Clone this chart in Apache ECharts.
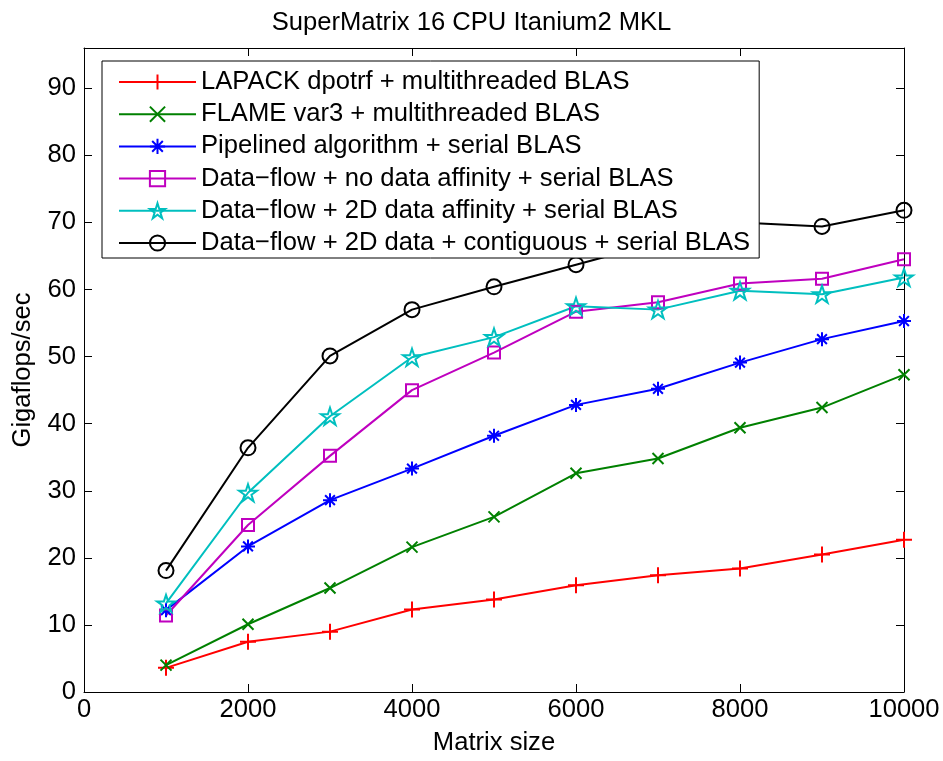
<!DOCTYPE html>
<html>
<head>
<meta charset="utf-8">
<script src="https://cdn.jsdelivr.net/npm/echarts@6/dist/echarts.min.js"></script>
<style>
html,body{margin:0;padding:0;background:#fff;}
#chart{width:943px;height:761px;}
</style>
</head>
<body>
<div id="chart"></div>
<script>
var matrixSizes = [1000, 2000, 3000, 4000, 5000, 6000, 7000, 8000, 9000, 10000];
var lapackMT   = [3.6, 7.5, 9.0, 12.3, 13.8, 15.9, 17.4, 18.4, 20.5, 22.7];
var flameVar3  = [4.0, 10.1, 15.5, 21.6, 26.1, 32.6, 34.8, 39.4, 42.4, 47.3];
var pipelined  = [12.2, 21.7, 28.6, 33.3, 38.2, 42.8, 45.2, 49.1, 52.6, 55.3];
var dfNoAff    = [11.4, 24.9, 35.2, 45.0, 50.6, 56.7, 58.1, 60.9, 61.6, 64.5];
var df2dAff    = [13.2, 29.7, 41.1, 49.9, 52.9, 57.5, 57.0, 59.8, 59.3, 61.8];
var df2dContig = [18.1, 36.4, 50.1, 57.0, 60.4, 63.7, 67.0, 70.0, 69.4, 71.8];
var seriesNames = [
  'LAPACK dpotrf + multithreaded BLAS',
  'FLAME var3 + multithreaded BLAS',
  'Pipelined algorithm + serial BLAS',
  'Data\u2212flow + no data affinity + serial BLAS',
  'Data\u2212flow + 2D data affinity + serial BLAS',
  'Data\u2212flow + 2D data + contiguous + serial BLAS'
];
var xTicks = [0, 2000, 4000, 6000, 8000, 10000];
var yTicks = [0, 10, 20, 30, 40, 50, 60, 70, 80, 90];

var FONT = '"Liberation Sans", Arial, Helvetica, sans-serif';
var FS = 25.6;
var PLUS = 'path://M5,0L5,10M0,5L10,5';
var CROSS = 'path://M0,0L10,10M0,10L10,0';
var ASTER = 'path://M5,0L5,10M0,5L10,5M1.5,1.5L8.5,8.5M1.5,8.5L8.5,1.5';
var STAR = 'path://M50,0L61.23,34.55L97.55,34.55L68.17,55.9L79.39,90.45L50,69.1L20.61,90.45L31.83,55.9L2.45,34.55L38.77,34.55Z';

function pairs(vals){ return matrixSizes.map(function(x,i){ return [x, vals[i]]; }); }

function mk(name, vals, color, symbol, size){
  return {
    name: name, type: 'line', data: pairs(vals),
    symbol: symbol, symbolSize: size, symbolKeepAspect: true,
    showAllSymbol: true,
    lineStyle: {color: color, width: 2},
    itemStyle: {color: 'rgba(255,255,255,0)', borderColor: color, borderWidth: 2},
    emphasis: {disabled: true},
    animation: false
  };
}

var chart = echarts.init(document.getElementById('chart'), null, {renderer: 'canvas'});
var axisCommon = {
  axisLine: {show: true, onZero: false, lineStyle: {color: '#000', width: 1}},
  axisTick: {show: true, inside: true, length: 8, lineStyle: {color: '#000', width: 1}},
  splitLine: {show: false}
};
chart.setOption({
  backgroundColor: '#fff',
  animation: false,
  title: {
    text: 'SuperMatrix 16 CPU Itanium2 MKL', left: 'center', top: 5,
    textStyle: {fontFamily: FONT, fontSize: FS, fontWeight: 'normal', color: '#000'}
  },
  grid: {left: 84, right: 39, top: 48, bottom: 67.5, containLabel: false},
  legend: {
    orient: 'vertical', left: 102, top: 61,
    padding: [8, 9, 2, 16], itemGap: 6.2, itemWidth: 77, itemHeight: 19,
    backgroundColor: '#fff', borderColor: '#000', borderWidth: 1,
    textStyle: {fontFamily: FONT, fontSize: FS, color: '#000'},
    selectedMode: false,
    data: seriesNames
  },
  xAxis: [
    Object.assign({}, axisCommon, {
      type: 'value', min: 0, max: 10000, interval: 2000, position: 'bottom',
      name: 'Matrix size', nameLocation: 'middle', nameGap: 38,
      nameTextStyle: {fontFamily: FONT, fontSize: FS, color: '#000'},
      axisLabel: {margin: 5, fontFamily: FONT, fontSize: FS, color: '#000',
        formatter: function(v){ return xTicks.indexOf(v) >= 0 ? String(v) : ''; }}
    }),
    Object.assign({}, axisCommon, {
      type: 'value', min: 0, max: 10000, interval: 2000, position: 'top',
      axisLabel: {show: false}
    })
  ],
  yAxis: [
    Object.assign({}, axisCommon, {
      type: 'value', min: 0, max: 96, interval: 10, position: 'left',
      name: 'Gigaflops/sec', nameLocation: 'middle', nameGap: 48,
      nameTextStyle: {fontFamily: FONT, fontSize: FS, color: '#000'},
      axisLabel: {margin: 8, fontFamily: FONT, fontSize: FS, color: '#000',
        formatter: function(v){ return yTicks.indexOf(v) >= 0 ? String(v) : ''; }}
    }),
    Object.assign({}, axisCommon, {
      type: 'value', min: 0, max: 96, interval: 10, position: 'right',
      axisLabel: {show: false}
    })
  ],
  series: [
    mk(seriesNames[0], lapackMT, '#ff0000', PLUS, 16),
    mk(seriesNames[1], flameVar3, '#008000', CROSS, 11),
    mk(seriesNames[2], pipelined, '#0000ff', ASTER, 14),
    mk(seriesNames[3], dfNoAff, '#bf00bf', 'rect', 12),
    mk(seriesNames[4], df2dAff, '#00bfbf', STAR, 18),
    mk(seriesNames[5], df2dContig, '#000000', 'circle', 15)
  ]
});
</script>
</body>
</html>
